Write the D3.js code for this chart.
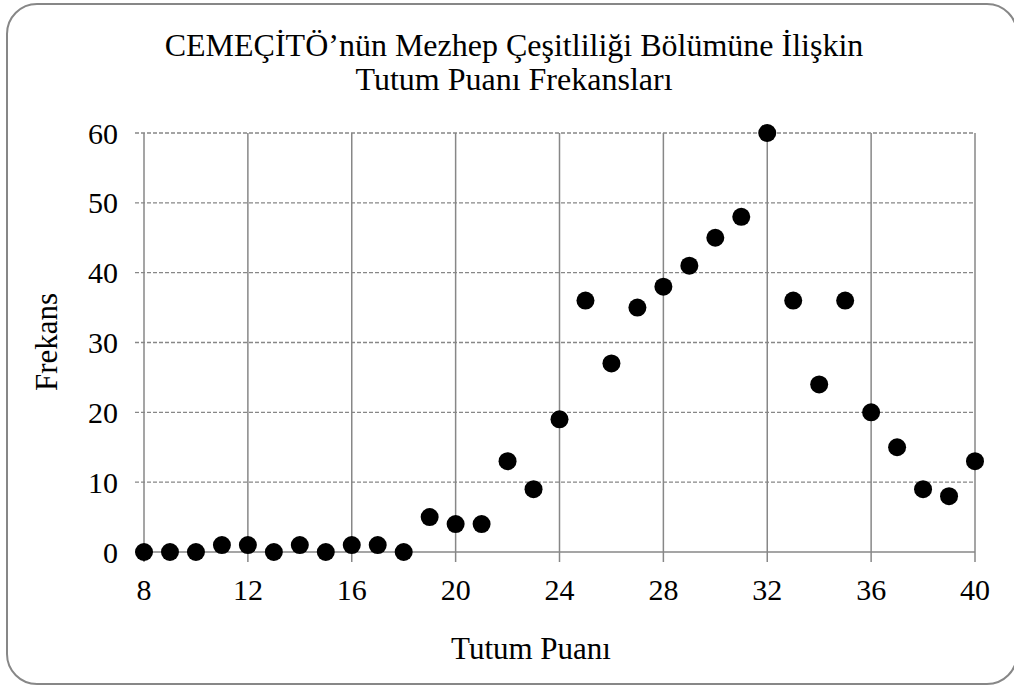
<!DOCTYPE html>
<html><head><meta charset="utf-8">
<script src="https://cdn.jsdelivr.net/npm/d3@7/dist/d3.min.js"></script>
<style>
html,body{margin:0;padding:0;background:#fff;overflow:hidden;}
svg text{font-family:"Liberation Serif","Times New Roman",serif;fill:#000;}
</style></head>
<body>
<svg id="chart" width="1014" height="685"></svg>
<script>
const scores = [8,9,10,11,12,13,14,15,16,17,18,19,20,21,22,23,24,25,26,27,28,29,30,31,32,33,34,35,36,37,38,39,40];
const frequencies = [0,0,0,1,1,0,1,0,1,1,0,5,4,4,13,9,19,36,27,35,38,41,45,48,60,36,24,36,20,15,9,8,13];
const xTicks = [8,12,16,20,24,28,32,36,40];
const yTicks = [0,10,20,30,40,50,60];
const titleLines = ["CEMEÇİTÖ’nün Mezhep Çeşitliliği Bölümüne İlişkin","Tutum Puanı Frekansları"];
const xLabel = "Tutum Puanı";
const yLabel = "Frekans";

const svg = d3.select("#chart");
const grid = "#878787";

// outer rounded border
svg.append("rect").attr("x",7).attr("y",4).attr("width",1010).attr("height",680)
  .attr("rx",30).attr("ry",30).attr("fill","#fff").attr("stroke",grid).attr("stroke-width",2);

const x = d3.scaleLinear().domain([8,40]).range([144,975]);
const y = d3.scaleLinear().domain([0,60]).range([552,133]);

// horizontal dashed gridlines (with outside ticks to the left)
svg.append("g").selectAll("line").data(yTicks.filter(d=>d!==0)).join("line")
  .attr("x1",x(8)-9).attr("x2",x(40)).attr("y1",d=>y(d)).attr("y2",d=>y(d))
  .attr("stroke",grid).attr("stroke-width",1.3).attr("stroke-dasharray","4,2");

// vertical solid gridlines
svg.append("g").selectAll("line").data(xTicks).join("line")
  .attr("x1",d=>x(d)).attr("x2",d=>x(d)).attr("y1",y(60)).attr("y2",y(0)+10)
  .attr("stroke",grid).attr("stroke-width",1.5);

// x axis line (solid)
svg.append("line").attr("x1",x(8)-9).attr("x2",x(40)).attr("y1",y(0)).attr("y2",y(0))
  .attr("stroke",grid).attr("stroke-width",1.5);

// y tick labels
svg.append("g").selectAll("text").data(yTicks).join("text")
  .attr("x",x(8)-26).attr("y",d=>y(d)).attr("dy","0.35em")
  .attr("text-anchor","end").attr("font-size",30).text(d=>d);

// x tick labels
svg.append("g").selectAll("text").data(xTicks).join("text")
  .attr("x",d=>x(d)).attr("y",600)
  .attr("text-anchor","middle").attr("font-size",30).text(d=>d);

// title
svg.append("g").selectAll("text").data(titleLines).join("text")
  .attr("x",514).attr("y",(d,i)=>56+i*34)
  .attr("text-anchor","middle").attr("font-size",32).text(d=>d);

// axis titles
svg.append("text").attr("x",531).attr("y",659).attr("text-anchor","middle")
  .attr("font-size",31).text(xLabel);
svg.append("text").attr("transform","translate(57,342) rotate(-90)")
  .attr("text-anchor","middle").attr("font-size",31).text(yLabel);

// points
svg.append("g").selectAll("circle").data(scores.map((s,i)=>({s,f:frequencies[i]}))).join("circle")
  .attr("cx",d=>x(d.s)).attr("cy",d=>y(d.f)).attr("r",9).attr("fill","#000");
</script>
</body></html>
